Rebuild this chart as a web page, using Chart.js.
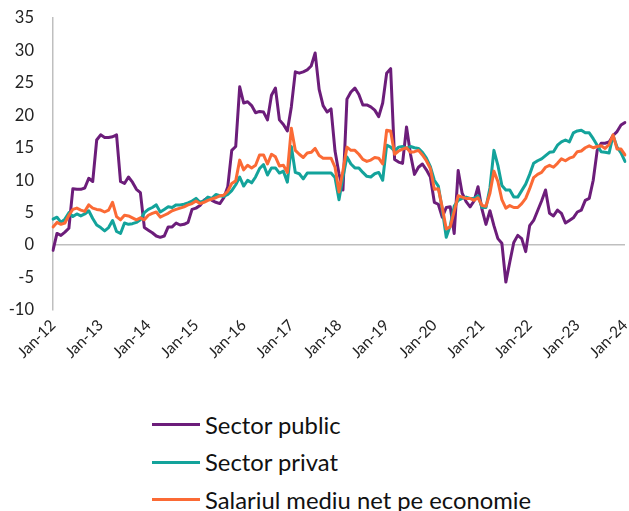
<!DOCTYPE html>
<html>
<head>
<meta charset="utf-8">
<script src="https://cdn.jsdelivr.net/npm/chart.js@4.4.0/dist/chart.umd.min.js"></script>
<style>
  body { margin: 0; background: #fff; }
  #wrap { position: relative; width: 629px; height: 511px; font-family: Lato, sans-serif; }
  #chart { position: absolute; left: 0; top: 0; }
  .legend { position: absolute; left: 152px; top: 406px; }
  .legend div { height: 37.5px; display: flex; align-items: center; font-size: 23.8px; color: #111; white-space: nowrap; }
  .legend span { display: inline-block; width: 48px; height: 3px; margin-right: 5px; }
</style>
</head>
<body>
<div id="wrap">
  <canvas id="chart" width="629" height="380"></canvas>
  <div class="legend" id="legend"></div>
</div>
<script>
// DATA
const years = ['12', '13', '14', '15', '16', '17', '18', '19', '20', '21', '22', '23', '24'];
const monthNames = ['Jan', 'Feb', 'Mar', 'Apr', 'May', 'Jun', 'Jul', 'Aug', 'Sep', 'Oct', 'Nov', 'Dec'];
const seriesNames = ['Sector public', 'Sector privat', 'Salariul mediu net pe economie'];
const yTicks = { min: -10, max: 35, step: 5 };

// monthly growth, Jan-12 .. Jan-24 (one row per year)
const sectorPublic = [
  -0.8, 1.8, 1.5, 2.0, 2.6, 8.7, 8.6, 8.6, 8.8, 10.3, 9.8, 16.2,
  17.0, 16.6, 16.6, 16.7, 17.0, 9.8, 9.5, 10.5, 9.7, 8.6, 8.1, 2.7,
  2.3, 1.9, 1.4, 1.2, 1.4, 2.8, 2.8, 3.4, 3.1, 3.2, 3.5, 5.5,
  5.7, 6.1, 6.9, 7.3, 6.9, 6.6, 6.4, 7.3, 9.0, 14.6, 15.2, 24.4,
  21.9, 22.1, 21.5, 20.4, 20.6, 20.5, 19.3, 23.1, 24.2, 19.3, 18.6, 17.6,
  21.3, 26.7, 26.5, 26.7, 27.0, 27.6, 29.6, 24.0, 21.5, 20.5, 21.0, 14.5,
  11.0, 8.5, 22.5, 23.6, 24.2, 23.2, 21.6, 21.6, 21.3, 20.8, 19.8, 21.9,
  26.5, 27.2, 13.2, 12.8, 12.6, 18.2, 14.0, 10.9, 12.0, 12.5, 11.6, 10.5,
  6.6, 6.3, 4.3, 5.8, 5.9, 1.8, 11.5, 8.0, 6.7, 5.9, 6.8, 9.0,
  5.5, 3.2, 5.3, 3.0, 1.0, 0.3, -5.7, -2.6, 0.4, 1.5, 1.0, -1.0,
  3.0, 3.8, 5.3, 6.8, 8.5, 4.9, 4.5, 5.4, 4.9, 3.4, 3.8, 4.2,
  5.1, 5.4, 6.9, 7.2, 10.0, 14.6, 15.7, 15.7, 15.9, 16.9, 17.5, 18.5,
  18.9
];
const sectorPrivat = [
  4.0, 4.3, 3.5, 4.0, 5.0, 4.4, 4.8, 4.5, 4.8, 5.3, 4.1, 3.1,
  2.7, 2.2, 2.7, 3.8, 2.1, 1.8, 3.4, 3.2, 3.3, 3.5, 3.9, 5.0,
  5.5, 5.8, 6.2, 5.1, 5.5, 5.9, 5.8, 6.2, 6.2, 6.3, 6.5, 6.8,
  7.2, 6.6, 6.8, 7.4, 7.2, 7.8, 7.6, 7.5, 7.8, 8.4, 9.3, 10.5,
  9.1, 10.0, 9.6, 10.5, 11.8, 12.4, 10.8, 11.9, 11.9, 11.1, 11.4, 9.7,
  15.2, 11.2, 11.0, 10.2, 11.1, 11.1, 11.1, 11.1, 11.1, 11.1, 11.1, 10.4,
  7.0, 10.5, 13.6, 12.5, 11.9, 11.9, 11.2, 10.6, 10.5, 11.0, 11.2, 10.0,
  15.4, 15.1, 14.5, 15.1, 15.2, 14.9, 15.2, 15.0, 14.9, 14.3, 13.4, 12.1,
  10.0, 9.1, 5.5, 1.2, 3.0, 6.0, 6.9, 7.2, 7.4, 7.2, 7.2, 7.6,
  5.8, 5.8, 8.8, 14.6, 12.3, 9.2, 8.5, 8.5, 7.4, 7.4, 8.4, 9.4,
  10.9, 12.6, 13.0, 13.3, 13.8, 14.3, 14.4, 15.4, 15.9, 16.2, 15.9, 17.3,
  17.6, 17.7, 17.3, 17.3, 16.4, 15.4, 14.4, 14.3, 14.2, 16.9, 15.1, 14.2,
  12.9
];
const salariulMediu = [
  2.8, 3.5, 3.2, 3.4, 4.6, 5.5, 5.7, 5.4, 5.2, 6.2, 5.7, 5.5,
  5.4, 5.1, 5.4, 6.6, 4.4, 3.9, 4.6, 4.5, 4.2, 3.9, 4.2, 3.9,
  4.6, 4.9, 5.1, 4.3, 4.6, 4.9, 5.3, 5.5, 5.7, 5.9, 6.2, 6.4,
  6.8, 6.4, 6.6, 6.9, 7.1, 7.3, 7.6, 7.7, 8.3, 9.5, 9.9, 13.1,
  11.6, 12.3, 11.9, 12.3, 13.9, 13.9, 12.5, 14.0, 13.6, 12.2, 12.3, 11.2,
  18.0, 14.6, 14.0, 13.5, 14.2, 14.3, 14.9, 13.8, 13.4, 13.4, 13.4, 12.0,
  8.2, 11.5, 15.1, 14.6, 14.6, 14.0, 13.2, 12.9, 13.1, 13.5, 13.4, 12.5,
  17.7, 17.6, 14.0, 14.5, 14.8, 15.0, 14.3, 14.4, 14.6, 13.9, 13.0, 11.8,
  8.6, 8.7, 5.8, 2.5, 2.8, 5.2, 7.6, 7.4, 7.2, 7.2, 6.9, 7.3,
  6.1, 6.0, 8.0, 11.4, 9.8, 7.0, 5.7, 6.1, 5.8, 5.8, 6.4, 7.2,
  8.7, 10.4, 10.9, 11.2, 12.0, 12.3, 12.0, 12.6, 13.3, 13.0, 13.4, 13.6,
  14.4, 14.5, 15.0, 15.3, 15.0, 15.2, 15.3, 14.9, 15.5, 17.0, 14.8, 14.8,
  13.9
];

const colors = ['#6c1d7a', '#13a39b', '#fb6a35'];

// month labels Jan-12 .. Jan-24
const labels = [];
years.forEach((y, yi) => {
  monthNames.forEach(m => {
    if (yi < years.length - 1 || m === 'Jan') labels.push(m + '-' + y);
  });
});

// LEGEND (html, one row per series)
const legend = document.getElementById('legend');
seriesNames.forEach((name, i) => {
  const row = document.createElement('div');
  const line = document.createElement('span');
  line.style.background = colors[i];
  row.appendChild(line);
  row.appendChild(document.createTextNode(name));
  legend.appendChild(row);
});

const font = { family: 'Lato, sans-serif' };
const axisGray = '#bfbfbf';

// CHART
new Chart(document.getElementById('chart').getContext('2d'), {
  type: 'line',
  data: {
    labels: labels,
    datasets: [sectorPublic, sectorPrivat, salariulMediu].map((d, i) => ({
      label: seriesNames[i],
      data: d,
      borderColor: colors[i],
      backgroundColor: colors[i],
      borderWidth: 3,
      pointRadius: 0,
      tension: 0,
      borderJoinStyle: 'round',
      borderCapStyle: 'round',
      order: 3 - i // later series drawn on top
    }))
  },
  options: {
    responsive: false,
    animation: false,
    layout: { padding: { top: 18, right: 4, left: 0, bottom: 0 } },
    plugins: { legend: { display: false }, tooltip: { enabled: false } },
    scales: {
      x: {
        type: 'category',
        grid: { display: false, drawTicks: false },
        border: { display: false },
        ticks: {
          autoSkip: false, maxRotation: 45, minRotation: 45, padding: 6,
          color: '#222', font: { ...font, size: 15.5 }
        },
        afterBuildTicks: s => { s.ticks = s.ticks.filter(t => t.value % 12 === 0); },
        afterFit: s => { s.height = 70; s.paddingLeft = 0; s.paddingRight = 0; }
      },
      y: {
        min: yTicks.min, max: yTicks.max,
        ticks: { stepSize: yTicks.step, padding: 19, color: '#222', font: { ...font, size: 16.5 } },
        grid: {
          drawTicks: false, lineWidth: 1.5,
          color: c => (c.tick && c.tick.value === 0) ? axisGray : 'rgba(0,0,0,0)'
        },
        border: { display: true, color: axisGray, width: 1.5 },
        afterFit: s => { s.width = 53; s.paddingTop = 0; s.paddingBottom = 0; }
      }
    }
  }
});
</script>
</body>
</html>
